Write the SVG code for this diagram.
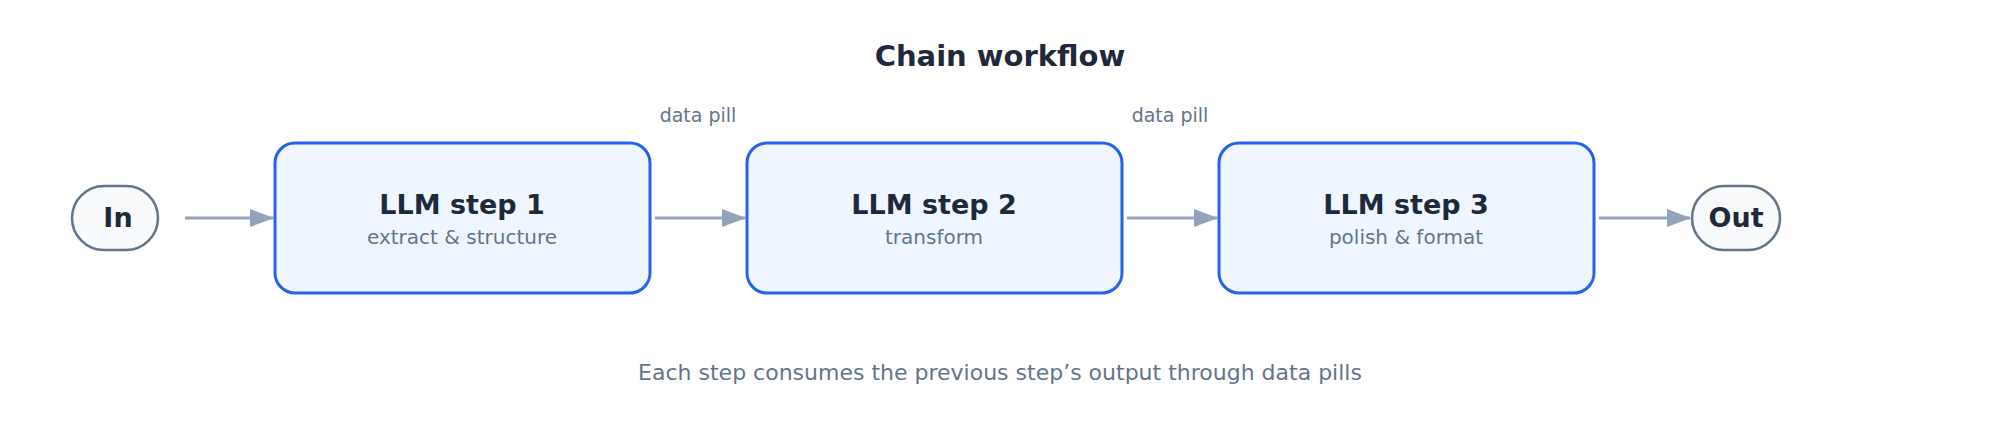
<svg xmlns="http://www.w3.org/2000/svg" width="2000" height="425" viewBox="0 0 2000 425">
<style>
text{font-family:"DejaVu Sans",sans-serif;text-anchor:middle}
.t{font-size:29px;font-weight:bold;fill:#1e293b}
.h{font-size:27px;font-weight:bold;fill:#1e293b}
.s{font-size:20px;fill:#64748b}
.l{font-size:19px;fill:#64748b}
.box{fill:#eff6ff;stroke:#2563eb;stroke-width:3}
.pill{fill:#f8fafc;stroke:#64748b;stroke-width:2.5}
.c{stroke:#94a3b8;stroke-width:3;fill:none;marker-end:url(#a)}
</style>
<defs><marker id="a" markerWidth="24" markerHeight="18" refX="23" refY="9" orient="auto" markerUnits="userSpaceOnUse"><path d="M0,0L24,9L0,18z" fill="#94a3b8"/></marker></defs>
<rect width="2000" height="425" fill="#fff"/>
<text class="t" x="1000" y="66">Chain workflow</text>
<g id="in"><rect class="pill" x="72" y="186" width="86" height="64" rx="32"/><text class="h" x="118" y="227">In</text></g>
<g id="step1"><rect class="box" x="275" y="143" width="375" height="150" rx="20"/><text class="h" x="462" y="214">LLM step 1</text><text class="s" x="462" y="244">extract &amp; structure</text></g>
<g id="step2"><rect class="box" x="747" y="143" width="375" height="150" rx="20"/><text class="h" x="934" y="214">LLM step 2</text><text class="s" x="934" y="244">transform</text></g>
<g id="step3"><rect class="box" x="1219" y="143" width="375" height="150" rx="20"/><text class="h" x="1406" y="214">LLM step 3</text><text class="s" x="1406" y="244">polish &amp; format</text></g>
<g id="out"><rect class="pill" x="1692" y="186" width="88" height="64" rx="32"/><text class="h" x="1736" y="227">Out</text></g>
<g id="connectors">
<line class="c" x1="185" y1="218" x2="273" y2="218"/>
<line class="c" x1="655" y1="218" x2="745" y2="218"/>
<line class="c" x1="1127" y1="218" x2="1217" y2="218"/>
<line class="c" x1="1599" y1="218" x2="1690" y2="218"/>
<text class="l" x="698" y="122">data pill</text>
<text class="l" x="1170" y="122">data pill</text>
</g>
<text class="s" x="1000" y="380" style="font-size:22px">Each step consumes the previous step’s output through data pills</text>
</svg>
